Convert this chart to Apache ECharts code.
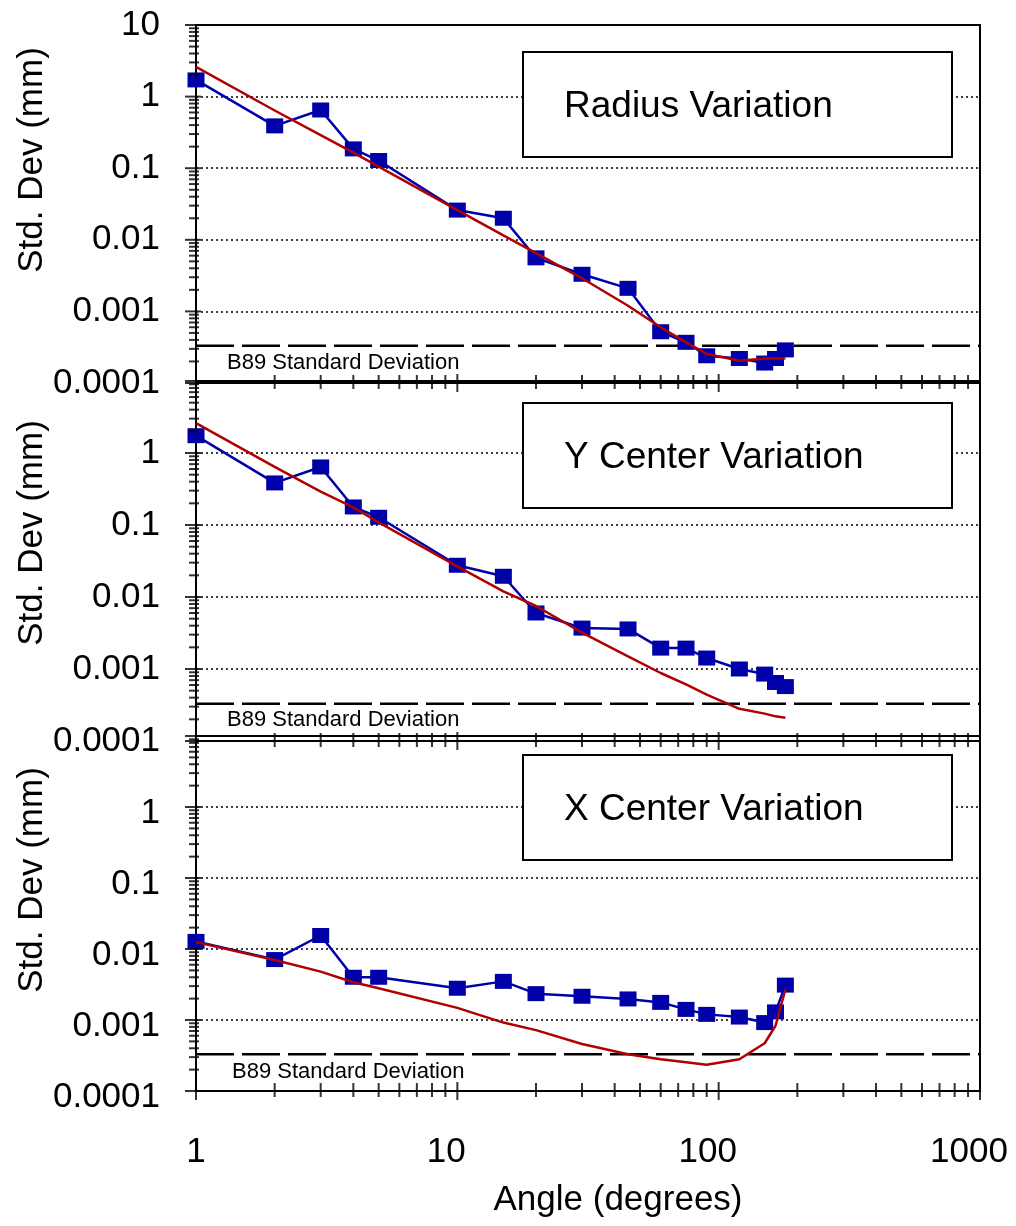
<!DOCTYPE html>
<html>
<head>
<meta charset="utf-8">
<title>Std. Dev vs Angle</title>
<script src="https://cdn.jsdelivr.net/npm/echarts@6/dist/echarts.min.js"></script>
<style>
  html, body { margin: 0; padding: 0; background: #fff; }
  #main { width: 1016px; height: 1226px; }
</style>
</head>
<body>
<div id="main"></div>
<script>
// angle span (degrees) for every measurement
const angles = [1, 2, 3, 4, 5, 10, 15, 20, 30, 45, 60, 75, 90, 120, 150, 165, 180];

// measured std. dev (mm) - blue squares
const radiusMeas  = [1.71, 0.39, 0.65, 0.186, 0.128, 0.026, 0.020, 0.0056, 0.0033, 0.0021, 0.00052, 0.00037, 0.00024, 0.00022, 0.00019, 0.00022, 0.00029];
const yCenterMeas = [1.74, 0.384, 0.64, 0.178, 0.128, 0.0276, 0.0194, 0.0060, 0.0037, 0.0036, 0.00195, 0.00195, 0.00142, 0.0010, 0.00085, 0.00065, 0.00057];
const xCenterMeas = [0.0128, 0.0071, 0.0155, 0.0040, 0.0040, 0.0028, 0.0035, 0.00235, 0.00216, 0.00198, 0.00177, 0.00141, 0.0012, 0.0011, 0.00092, 0.0013, 0.0031];

// predicted std. dev (mm) - red line
const radiusFit  = [2.6, 0.64, 0.29, 0.165, 0.105, 0.026, 0.0115, 0.0065, 0.0029, 0.0012, 0.0006, 0.00037, 0.000255, 0.000205, 0.00022, 0.00022, 0.00022];
const yCenterFit = [2.6, 0.64, 0.29, 0.176, 0.109, 0.0267, 0.012, 0.0075, 0.0032, 0.0015, 0.00088, 0.00061, 0.00044, 0.00028, 0.00024, 0.00022, 0.00021];
const xCenterFit = [0.0125, 0.0070, 0.0048, 0.0034, 0.0028, 0.00148, 0.00092, 0.00072, 0.00046, 0.00033, 0.00028, 0.000255, 0.000235, 0.00028, 0.00047, 0.00083, 0.0027];

// B89 standard deviation level, drawn across the whole angle range
const b89 = 0.00033;
const b89Range = [1, 1000];

const panelTitles = ['Radius Variation', 'Y Center Variation', 'X Center Variation'];

// tick marks
const yDecades = [0.0001, 0.001, 0.01, 0.1, 1, 10];
const xDecades = [1, 10, 100, 1000];
const minorSteps = [2, 3, 4, 5, 6, 7, 8, 9];

const FONT = '"Liberation Sans", Arial, sans-serif';
const BLUE = '#0000a8';
const RED = '#b00000';

const meas = [radiusMeas, yCenterMeas, xCenterMeas];
const fits = [radiusFit, yCenterFit, xCenterFit];

// layout
const tops = [25, 381, 736];
const heights = [358, 360, 355];
const boxTops = [52, 403, 755];
const b89TextPos = [[227, 363], [227, 720], [232, 1072]];
const yNameY = [160, 533, 880];

const yMinor = [];
yDecades.slice(0, -1).forEach(d => minorSteps.forEach(m => yMinor.push(m * d)));
const xMinor = [];
xDecades.slice(0, -1).forEach(d => minorSteps.forEach(m => xMinor.push(m * d)));

function fmt(v) {
    return String(Number(v.toPrecision(4)));
}

const grid = [], xAxis = [], yAxis = [], series = [], graphic = [];

for (let i = 0; i < 3; i++) {
    grid.push({
        left: 196, right: 36, top: tops[i], height: heights[i],
        show: true, borderColor: '#000', borderWidth: 2,
        backgroundColor: 'transparent', outerBoundsMode: 'none'
    });
    xAxis.push({
        type: 'log', logBase: 10, gridIndex: i, min: 1, max: 1000,
        axisLine: { show: true, lineStyle: { color: '#000', width: 2 } },
        axisTick: { show: false },
        splitLine: { show: false },
        axisLabel: {
            show: i === 2, margin: 44, color: '#000',
            fontFamily: FONT, fontSize: 35,
            formatter: v => v < 5 ? '{a|' + fmt(v) + '}' : '{b|' + fmt(v) + '}',
            rich: {
                a: { fontFamily: FONT, fontSize: 35, color: '#000' },
                b: { fontFamily: FONT, fontSize: 35, color: '#000', padding: [0, 22, 0, 0] }
            }
        }
    });
    yAxis.push({
        type: 'log', logBase: 10, gridIndex: i, min: 0.0001, max: 10,
        axisLine: { show: true, lineStyle: { color: '#000', width: 2 } },
        axisTick: { show: false },
        splitLine: { show: true, lineStyle: { color: '#000', width: 1.6, type: [2, 3] } },
        axisLabel: {
            margin: 36, color: '#000', fontFamily: FONT, fontSize: 35,
            formatter: v => (i > 0 && v > 5) ? '' : '{p|' + fmt(v) + '}',
            rich: {
                p: {
                    fontFamily: FONT, fontSize: 35, color: '#000',
                    padding: i === 2 ? [12, 0, 0, 0] : 0
                }
            }
        }
    });

    // measured values
    series.push({
        type: 'line', xAxisIndex: i, yAxisIndex: i,
        data: angles.map((a, k) => [a, meas[i][k]]),
        symbol: 'rect', symbolSize: [17, 15], showAllSymbol: true,
        itemStyle: { color: BLUE },
        lineStyle: { color: BLUE, width: 2.5 },
        z: 3, silent: true
    });
    // predicted values
    series.push({
        type: 'line', xAxisIndex: i, yAxisIndex: i,
        data: angles.map((a, k) => [a, fits[i][k]]),
        symbol: 'none',
        lineStyle: { color: RED, width: 2.5 },
        z: 4, silent: true
    });
    // B89 level
    series.push({
        type: 'line', xAxisIndex: i, yAxisIndex: i,
        data: b89Range.map(a => [a, b89]),
        symbol: 'none',
        lineStyle: { color: '#000', width: 2.5, type: [38, 8] },
        z: 2, silent: true
    });

    // cross ticks, drawn on the axes
    const tick = (data, size, offset) => ({
        type: 'scatter', xAxisIndex: i, yAxisIndex: i, data: data,
        symbol: 'rect', symbolSize: size, symbolOffset: offset,
        itemStyle: { color: '#000' }, clip: false, silent: true, z: 5
    });
    series.push(tick(yDecades.map(v => [1, v]), [16, 2], [-3, 0]));
    series.push(tick(yMinor.map(v => [1, v]), [10, 2], [-2, 0]));
    series.push(tick(xDecades.map(v => [v, 0.0001]), [2, 18], [0, 0]));
    series.push(tick(xMinor.map(v => [v, 0.0001]), [2, 14], [0, -1]));

    // panel title box
    graphic.push({
        type: 'rect', z: 10,
        shape: { x: 523, y: boxTops[i], width: 429, height: 105 },
        style: { fill: '#fff', stroke: '#000', lineWidth: 2 }
    });
    graphic.push({
        type: 'text', z: 11, x: 564, y: boxTops[i] + 55,
        style: {
            text: panelTitles[i], fill: '#000', font: '37px ' + FONT,
            textVerticalAlign: 'middle', verticalAlign: 'middle'
        }
    });
    // B89 label
    graphic.push({
        type: 'text', z: 11, x: b89TextPos[i][0], y: b89TextPos[i][1],
        style: {
            text: 'B89 Standard Deviation', fill: '#000', font: '22px ' + FONT,
            textVerticalAlign: 'middle', verticalAlign: 'middle'
        }
    });
    // y axis name
    graphic.push({
        type: 'text', z: 11, x: 32, y: yNameY[i], rotation: Math.PI / 2,
        style: {
            text: 'Std. Dev (mm)', fill: '#000', font: '35px ' + FONT,
            textAlign: 'center', align: 'center',
            textVerticalAlign: 'middle', verticalAlign: 'middle'
        }
    });
}

graphic.push({
    type: 'text', z: 11, x: 618, y: 1200,
    style: {
        text: 'Angle (degrees)', fill: '#000', font: '35px ' + FONT,
        textAlign: 'center', align: 'center',
        textVerticalAlign: 'middle', verticalAlign: 'middle'
    }
});

const chart = echarts.init(document.getElementById('main'));
chart.setOption({
    animation: false,
    backgroundColor: '#fff',
    grid: grid,
    xAxis: xAxis,
    yAxis: yAxis,
    series: series,
    graphic: graphic
});
</script>
</body>
</html>
